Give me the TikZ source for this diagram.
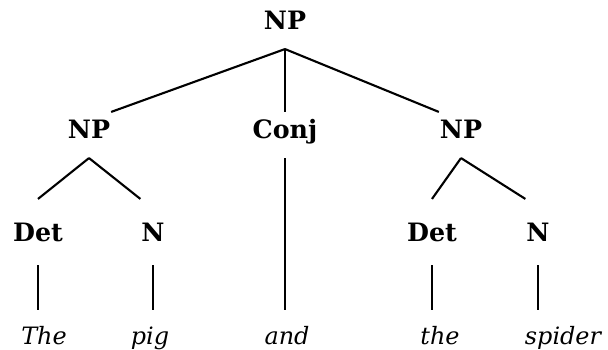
\documentclass[tikz,border=0pt]{standalone}
\usepackage{fontspec}
\setmainfont{DejaVu Serif}
\usetikzlibrary{arrows}
\newdimen\pxu \pxu=0.25mm

\begin{document}
\begin{tikzpicture}[x=0.025cm,y=-0.025cm,line width=1.5pt]
  \tikzstyle{cat}=[inner sep=0pt,anchor=base,font=\fontsize{18}{21}\selectfont\bfseries]
  \tikzstyle{phrase}=[cat,text height=25\pxu,text depth=19\pxu]
  \tikzstyle{head}=[cat,text height=41\pxu,text depth=23\pxu]
  \tikzstyle{word}=[inner sep=0pt,anchor=base,text height=33\pxu,text depth=0pt,font=\fontsize{17}{20}\selectfont\itshape]
  \useasboundingbox (0,0) rectangle (608,350);

  \node[phrase] (top) at (285,29) {NP};
  \node[phrase] (np1) at (89,138) {NP};
  \node[phrase] (conj) at (285,138) {Conj};
  \node[phrase] (np2) at (461,138) {NP};
  \node[head] (det1) at (38,241) {Det};
  \node[head] (n1) at (153,241) {N};
  \node[head] (det2) at (432,241) {Det};
  \node[head] (n2) at (538,241) {N};
  \node[word] (w1) at (44,344) {The};
  \node[word] (w2) at (150,344) {pig};
  \node[word] (w3) at (287,344) {and};
  \node[word] (w4) at (440,344) {the};
  \node[word] (w5) at (563,344) {spider};

  \path (top.south) edge (np1.north east)
        (top.south) edge (conj.north)
        (top.south) edge (np2.north west)
        (np1.south) edge (det1.north)
        (np1.south) edge (n1.north west)
        (np2.south) edge (det2.north)
        (np2.south) edge (n2.north west)
        (det1.south) edge (det1.south |- w1.north)
        (n1.south) edge (n1.south |- w2.north)
        (conj.south) edge (conj.south |- w3.north)
        (det2.south) edge (det2.south |- w4.north)
        (n2.south) edge (n2.south |- w5.north);
\end{tikzpicture}
\end{document}
